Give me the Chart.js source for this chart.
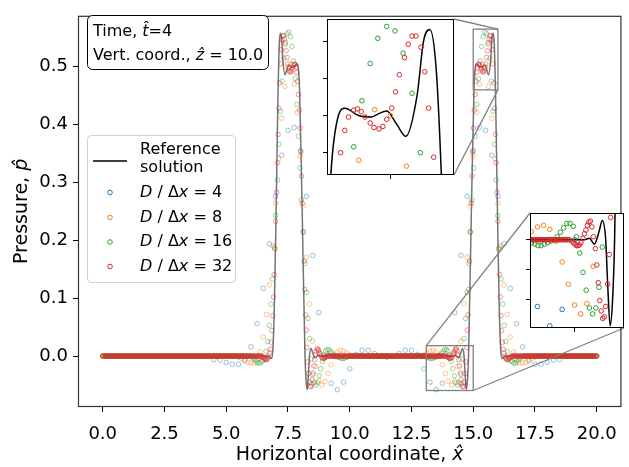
<!DOCTYPE html>
<html>
<head>
<meta charset="utf-8">
<script src="https://cdn.jsdelivr.net/npm/chart.js@4.4.0/dist/chart.umd.min.js"></script>
<style>
html, body { margin: 0; padding: 0; background: #fff; }
#wrap { position: relative; width: 629px; height: 467px; overflow: hidden; }
canvas { position: absolute; }
</style>
</head>
<body>
<div id="wrap">
  <canvas id="main" width="629" height="467" style="left:0;top:0"></canvas>
  <canvas id="ins1" width="138" height="167" style="left:321px;top:14px"></canvas>
  <canvas id="ins2" width="105" height="126" style="left:524px;top:208px"></canvas>
</div>
<script>
// ---- data ----
var xTicks = [0, 2.5, 5, 7.5, 10, 12.5, 15, 17.5, 20];
var yTicks = [0, 0.1, 0.2, 0.3, 0.4, 0.5];
var inset1XTicks = [15.5];
var inset1YTicks = [0.475, 0.5, 0.525, 0.55];
var inset2XTicks = [14];
var inset2YTicks = [-0.04, -0.02, 0];

var resolutions = ['4', '8', '16', '32'];
var spacing = [0.25, 0.125, 0.0625, 0.03125];
var colors = ['31,119,180', '255,127,14', '44,160,44', '214,39,40'];

var refLine = [[0,0],[6.0,0],[6.7,0],[6.78,-0.003],[6.85,-0.004],[6.9,0.02],[6.95,0.09],[7.0,0.2],[7.05,0.33],
  [7.1,0.461],[7.14,0.531],[7.19,0.558],[7.24,0.55],[7.29,0.514],[7.38,0.486],[7.45,0.494],[7.53,0.503],
  [7.6,0.501],[7.65,0.499],[7.75,0.5],[7.86,0.505],[7.91,0.5],[7.97,0.46],[8.08,0.24],[8.19,0.0],
  [8.23,-0.04],[8.28,-0.058],[8.33,-0.03],[8.37,0.0],[8.44,0.013],[8.5,0.006],[8.6,-0.003],[8.7,0.001],
  [8.8,0],[14.2,0],[14.3,0.001],[14.4,-0.003],[14.5,0.006],[14.56,0.013],[14.63,0.0],[14.67,-0.03],
  [14.72,-0.058],[14.77,-0.04],[14.81,0.0],[14.92,0.24],[15.03,0.46],[15.09,0.5],[15.14,0.505],[15.25,0.5],
  [15.35,0.499],[15.4,0.501],[15.47,0.503],[15.55,0.494],[15.62,0.486],[15.71,0.514],[15.76,0.55],
  [15.81,0.558],[15.86,0.531],[15.9,0.461],[15.95,0.33],[16.0,0.2],[16.05,0.09],[16.1,0.02],[16.15,-0.004],
  [16.22,-0.003],[16.3,0],[20,0]];

var blue = [[4.5,-0.006],[4.75,-0.007],[5,-0.011],[5.25,-0.014],[5.5,-0.014],[5.75,-0.008],[6,0.016],
  [6.25,0.056],[6.5,0.117],[6.75,0.194],[7,0.276],[7.25,0.347],[7.5,0.39],[7.75,0.395],[8,0.355],
  [8.25,0.276],[8.5,0.174],[8.75,0.075],[9,0],[9.25,-0.047],[9.5,-0.058],[9.75,-0.045],[10,-0.022],
  [10.25,0.003],[10.5,0.01],[10.75,0.01],[11,0.0045],[11.25,0],[11.5,-0.002],[11.75,0],[12,0.0045],
  [12.25,0.01],[12.5,0.01],[12.75,0.003],[13,-0.022],[13.25,-0.045],[13.5,-0.058],[13.75,-0.047],[14,0],
  [14.25,0.075],[14.5,0.174],[14.75,0.276],[15,0.355],[15.25,0.395],[15.5,0.39],[15.75,0.347],[16,0.276],
  [16.25,0.194],[16.5,0.117],[16.75,0.056],[17,0.016],[17.25,-0.008],[17.5,-0.014],[17.75,-0.014],
  [18,-0.011],[18.25,-0.007],[18.5,-0.006]];
var blueFlat = [[0, 4.25], [18.75, 20]];

var orange = [[5.5,-0.002],[5.625,-0.004],[5.75,-0.006],[5.875,-0.011],[6,-0.012],[6.125,-0.012],
  [6.25,-0.006],[6.375,0.007],[6.5,0.033],[6.625,0.072],[6.75,0.123],[6.875,0.191],[7,0.264],[7.125,0.341],
  [7.25,0.411],[7.375,0.466],[7.5,0.5],[7.625,0.504],[7.75,0.47],[7.875,0.421],[8,0.346],[8.125,0.259],
  [8.25,0.171],[8.375,0.09],[8.5,0.026],[8.625,-0.018],[8.75,-0.043],[8.875,-0.05],[9,-0.044],
  [9.125,-0.03],[9.25,-0.015],[9.375,-0.001],[9.5,0.007],[9.625,0.0097],[9.75,0.0086],[9.875,0.0054],
  [10,0.002],
  [13,0.002],[13.125,0.0054],[13.25,0.0086],[13.375,0.0097],[13.5,0.007],[13.625,-0.001],[13.75,-0.015],
  [13.875,-0.03],[14,-0.044],[14.125,-0.05],[14.25,-0.043],[14.375,-0.018],[14.5,0.026],[14.625,0.09],
  [14.75,0.171],[14.875,0.259],[15,0.346],[15.125,0.421],[15.25,0.47],[15.375,0.504],[15.5,0.5],
  [15.625,0.466],[15.75,0.411],[15.875,0.341],[16,0.264],[16.125,0.191],[16.25,0.123],[16.375,0.072],
  [16.5,0.033],[16.625,0.007],[16.75,-0.006],[16.875,-0.012],[17,-0.012],[17.125,-0.011],[17.25,-0.006],
  [17.375,-0.004],[17.5,-0.002]];
var orangeFlat = [[0, 5.375], [10.125, 12.875], [17.625, 20]];

var green = [[6.03,-0.001],[6.095,-0.003],[6.16,-0.006],[6.225,-0.01],[6.29,-0.012],[6.355,-0.012],
  [6.42,-0.01],[6.485,-0.008],[6.55,-0.003],[6.615,0.008],[6.68,0.025],[6.745,0.053],[6.81,0.09],
  [6.875,0.133],[6.94,0.188],[7.005,0.243],[7.07,0.304],[7.135,0.366],[7.2,0.423],[7.265,0.475],
  [7.33,0.515],[7.4,0.542],[7.465,0.557],[7.53,0.56],[7.6,0.552],[7.66,0.535],[7.725,0.51],[7.79,0.479],
  [7.855,0.435],[7.92,0.38],[7.985,0.325],[8.05,0.27],[8.115,0.215],[8.18,0.16],[8.245,0.11],[8.31,0.065],
  [8.375,0.03],[8.44,-0.005],[8.505,-0.032],[8.57,-0.046],[8.635,-0.05],[8.7,-0.046],[8.765,-0.034],
  [8.83,-0.022],[8.895,-0.009],[8.96,0.002],[9.025,0.009],[9.09,0.011],[9.155,0.011],[9.22,0.008],
  [9.285,0.005],[9.35,0.002],[9.415,0],[9.48,-0.001],[9.545,-0.002],[9.61,-0.003],[9.675,-0.004],
  [9.74,-0.004],[9.805,-0.003],[9.87,-0.002],[9.935,-0.001],
  [13.065,-0.001],[13.13,-0.002],[13.195,-0.003],[13.26,-0.004],[13.325,-0.004],[13.39,-0.003],
  [13.455,-0.002],[13.52,-0.001],[13.585,0],[13.65,0.002],[13.715,0.005],[13.78,0.008],[13.845,0.011],
  [13.91,0.011],[13.975,0.009],[14.04,0.002],[14.105,-0.009],[14.17,-0.022],[14.235,-0.034],[14.3,-0.046],
  [14.365,-0.05],[14.43,-0.046],[14.495,-0.032],[14.56,-0.005],[14.625,0.03],[14.69,0.065],[14.755,0.11],
  [14.82,0.16],[14.885,0.215],[14.95,0.27],[15.015,0.325],[15.08,0.38],[15.145,0.435],[15.21,0.479],
  [15.275,0.51],[15.34,0.535],[15.4,0.552],[15.47,0.56],[15.535,0.557],[15.6,0.542],[15.67,0.515],
  [15.735,0.475],[15.8,0.423],[15.865,0.366],[15.93,0.304],[15.995,0.243],[16.06,0.188],[16.125,0.133],
  [16.19,0.09],[16.255,0.053],[16.32,0.025],[16.385,0.008],[16.45,-0.003],[16.515,-0.008],[16.58,-0.01],
  [16.645,-0.012],[16.71,-0.012],[16.775,-0.01],[16.84,-0.006],[16.905,-0.003],[16.97,-0.001]];
var greenFlat = [[0, 5.94], [10, 13], [17.0625, 20]];

var red = [[6.47,-0.001],[6.5,-0.002],[6.54,-0.004],[6.57,-0.005],[6.6,-0.006],[6.63,-0.006],[6.66,-0.005],
  [6.69,-0.003],[6.72,0],[6.75,0.005],[6.79,0.012],[6.82,0.024],[6.85,0.044],[6.88,0.07],[6.91,0.102],
  [6.94,0.141],[6.97,0.185],[7.0,0.233],[7.04,0.283],[7.07,0.334],[7.1,0.383],[7.13,0.428],[7.16,0.472],
  [7.2,0.505],[7.23,0.5295],[7.26,0.546],[7.3,0.5535],[7.33,0.5535],[7.36,0.548],[7.39,0.539],[7.43,0.5275],
  [7.46,0.516],[7.49,0.505],[7.53,0.4975],[7.56,0.4927],[7.59,0.491],[7.63,0.492],[7.66,0.495],[7.7,0.499],
  [7.73,0.5026],[7.76,0.5045],[7.79,0.5037],[7.83,0.499],[7.86,0.49],[7.893,0.475],[7.925,0.452],
  [7.96,0.425],[7.99,0.394],[8.02,0.353],[8.05,0.311],[8.08,0.264],[8.12,0.214],[8.15,0.164],[8.18,0.115],
  [8.21,0.071],[8.24,0.045],[8.27,0.015],[8.3,-0.01],[8.33,-0.03],[8.37,-0.045],[8.4,-0.052],[8.43,-0.053],
  [8.46,-0.048],[8.49,-0.041],[8.52,-0.029],[8.55,-0.017],[8.58,-0.006],[8.62,0.002],[8.65,0.0086],
  [8.68,0.0125],[8.71,0.0119],[8.74,0.0097],[8.77,0.0065],[8.8,0.004],[8.83,0.001],[8.87,-0.002],
  [8.9,-0.0035],[8.93,-0.004],[8.96,-0.004],[8.99,-0.003],[9.02,-0.002],[9.05,-0.001],
  [13.95,-0.001],[13.98,-0.002],[14.01,-0.003],[14.04,-0.004],[14.07,-0.004],[14.1,-0.0035],[14.13,-0.002],
  [14.17,0.001],[14.2,0.004],[14.23,0.0065],[14.26,0.0097],[14.29,0.0119],[14.32,0.0125],[14.35,0.0086],
  [14.38,0.002],[14.42,-0.006],[14.45,-0.017],[14.48,-0.029],[14.51,-0.041],[14.54,-0.048],[14.57,-0.053],
  [14.6,-0.052],[14.63,-0.045],[14.67,-0.03],[14.7,-0.01],[14.73,0.015],[14.76,0.045],[14.79,0.071],
  [14.82,0.115],[14.85,0.164],[14.88,0.214],[14.92,0.264],[14.95,0.311],[14.98,0.353],[15.01,0.394],
  [15.04,0.425],[15.075,0.452],[15.107,0.475],[15.14,0.49],[15.17,0.499],[15.21,0.5037],[15.24,0.5045],
  [15.27,0.5026],[15.3,0.499],[15.34,0.495],[15.37,0.492],[15.41,0.491],[15.44,0.4927],[15.47,0.4975],
  [15.51,0.505],[15.54,0.516],[15.57,0.5275],[15.61,0.539],[15.64,0.548],[15.67,0.5535],[15.7,0.5535],
  [15.74,0.546],[15.77,0.5295],[15.8,0.505],[15.84,0.472],[15.87,0.428],[15.9,0.383],[15.93,0.334],
  [15.96,0.283],[16.0,0.233],[16.03,0.185],[16.06,0.141],[16.09,0.102],[16.12,0.07],[16.15,0.044],
  [16.18,0.024],[16.21,0.012],[16.25,0.005],[16.28,0],[16.31,-0.003],[16.34,-0.005],[16.37,-0.006],
  [16.4,-0.006],[16.43,-0.005],[16.46,-0.004],[16.5,-0.002],[16.53,-0.001]];
var redFlat = [[0, 6.44], [9.08, 13.92], [16.56, 20]];

var allPoints = [blue, orange, green, red];
var allFlat = [blueFlat, orangeFlat, greenFlat, redFlat];

// ---- helpers ----
Chart.defaults.font.family = '"DejaVu Sans", sans-serif';
var FONT = '"DejaVu Sans"';

function toXY(list) {
  return list.map(function (p) { return { x: p[0], y: p[1] }; });
}

// points at y = 0 along the flat parts, one per grid cell of that resolution
function seriesData(k) {
  var out = toXY(allPoints[k]);
  allFlat[k].forEach(function (r) {
    for (var x = r[0]; x <= r[1] + 1e-9; x += spacing[k]) out.push({ x: +x.toFixed(5), y: 0 });
  });
  return out.sort(function (a, b) { return a.x - b.x; });
}

function buildDatasets(alpha, lineColor, markerWidth) {
  var ds = [{
    label: 'Reference solution', data: toXY(refLine), showLine: true,
    borderColor: lineColor, borderWidth: 1.5, pointRadius: 0,
    cubicInterpolationMode: 'monotone', order: 10
  }];
  for (var k = 0; k < resolutions.length; k++) {
    ds.push({
      label: 'D / Δx = ' + resolutions[k], data: seriesData(k), showLine: false,
      pointRadius: 2.3, pointBorderWidth: markerWidth,
      borderColor: 'rgba(' + colors[k] + ',' + alpha + ')',
      backgroundColor: 'rgba(0,0,0,0)', order: 5 - k
    });
  }
  return ds;
}

function richText(ctx, parts, x, y, size, align) {
  var w = 0;
  parts.forEach(function (p) {
    ctx.font = (p[1] ? 'italic ' : '') + size + 'px ' + FONT;
    w += ctx.measureText(p[0]).width;
  });
  if (align === 'center') x -= w / 2;
  ctx.textAlign = 'left';
  ctx.textBaseline = 'middle';
  parts.forEach(function (p) {
    ctx.font = (p[1] ? 'italic ' : '') + size + 'px ' + FONT;
    ctx.fillText(p[0], x, y);
    x += ctx.measureText(p[0]).width;
  });
}

function roundBox(ctx, x, y, w, h, r) {
  ctx.beginPath();
  ctx.moveTo(x + r, y);
  ctx.arcTo(x + w, y, x + w, y + h, r);
  ctx.arcTo(x + w, y + h, x, y + h, r);
  ctx.arcTo(x, y + h, x, y, r);
  ctx.arcTo(x, y, x + w, y, r);
  ctx.closePath();
}

var framePlugin = {
  id: 'frame',
  beforeDraw: function (chart) {
    if (!chart.options.plugins.frame.fill) return;
    var a = chart.chartArea, ctx = chart.ctx;
    ctx.save();
    ctx.fillStyle = '#fff';
    ctx.fillRect(a.left, a.top, a.right - a.left, a.bottom - a.top);
    ctx.restore();
  },
  afterDraw: function (chart) {
    var a = chart.chartArea, ctx = chart.ctx, o = chart.options.plugins.frame;
    ctx.save();
    ctx.strokeStyle = o.color;
    ctx.lineWidth = o.width;
    ctx.strokeRect(a.left + 0.5, a.top + 0.5, a.right - a.left - 1, a.bottom - a.top - 1);
    ctx.restore();
  }
};

function insetChart(id, xr, yr, xt, yt) {
  return new Chart(document.getElementById(id), {
    type: 'scatter',
    data: { datasets: buildDatasets(1, '#000', 1).map(function (d) { d.clip = 0; return d; }) },
    options: {
      responsive: false, animation: false, devicePixelRatio: 1, events: [],
      layout: { padding: { left: 0, top: 1, right: 1, bottom: 0 } },
      elements: { line: { capBezierPoints: false } },
      plugins: { legend: { display: false }, tooltip: { enabled: false },
        frame: { color: '#000', width: 1, fill: true } },
      scales: {
        x: { type: 'linear', min: xr[0], max: xr[1],
          afterFit: function (s) { s.height = 6; },
          afterBuildTicks: function (s) { s.ticks = xt.map(function (v) { return { value: v }; }); },
          ticks: { display: false },
          grid: { drawOnChartArea: false, tickLength: 4, tickColor: '#000', tickWidth: 1 },
          border: { display: false } },
        y: { type: 'linear', min: yr[0], max: yr[1],
          afterFit: function (s) { s.width = 6; },
          afterBuildTicks: function (s) { s.ticks = yt.map(function (v) { return { value: v }; }); },
          ticks: { display: false },
          grid: { drawOnChartArea: false, tickLength: 4, tickColor: '#000', tickWidth: 1 },
          border: { display: false } }
      }
    },
    plugins: [framePlugin]
  });
}

var inset1Range = { x: [15.0, 16.0], y: [0.46, 0.565] };
var inset2Range = { x: [13.1, 15.0], y: [-0.0595, 0.018] };
var ins1 = insetChart('ins1', inset1Range.x, inset1Range.y, inset1XTicks, inset1YTicks);
var ins2 = insetChart('ins2', inset2Range.x, inset2Range.y, inset2XTicks, inset2YTicks);

function insetCorners(chart) {
  var c = chart.canvas, a = chart.chartArea;
  var l = c.offsetLeft + a.left, t = c.offsetTop + a.top;
  var r = c.offsetLeft + a.right, b = c.offsetTop + a.bottom;
  return { tl: [l, t], tr: [r, t], bl: [l, b], br: [r, b] };
}

var overlayPlugin = {
  id: 'overlay',
  afterDatasetsDraw: function (chart) {
    var ctx = chart.ctx, xs = chart.scales.x, ys = chart.scales.y;
    function box(rng) {
      var l = xs.getPixelForValue(rng.x[0]), r = xs.getPixelForValue(rng.x[1]);
      var t = ys.getPixelForValue(rng.y[1]), b = ys.getPixelForValue(rng.y[0]);
      return { tl: [l, t], tr: [r, t], bl: [l, b], br: [r, b] };
    }
    var b1 = box(inset1Range), b2 = box(inset2Range);
    var c1 = insetCorners(ins1), c2 = insetCorners(ins2);
    ctx.save();
    ctx.strokeStyle = '#808080';
    ctx.lineWidth = 1.3;
    [b1, b2].forEach(function (b) {
      ctx.strokeRect(b.tl[0], b.tl[1], b.tr[0] - b.tl[0], b.bl[1] - b.tl[1]);
    });
    var links = [[b1.tr, c1.tr], [b1.br, c1.br], [b2.tl, c2.tl], [b2.br, c2.br]];
    links.forEach(function (p) {
      ctx.beginPath(); ctx.moveTo(p[0][0], p[0][1]); ctx.lineTo(p[1][0], p[1][1]); ctx.stroke();
    });
    ctx.restore();
  },
  afterDraw: function (chart) {
    var ctx = chart.ctx, a = chart.chartArea;
    ctx.save();
    ctx.fillStyle = '#000';
    // axis titles
    richText(ctx, [['Horizontal coordinate, ', false], ['x\u0302', true]], (a.left + a.right) / 2, 455, 19, 'center');
    ctx.save();
    ctx.translate(22, (a.top + a.bottom) / 2);
    ctx.rotate(-Math.PI / 2);
    richText(ctx, [['Pressure, ', false], ['p\u0302', true]], 0, 0, 19, 'center');
    ctx.restore();

    // annotation box
    roundBox(ctx, 87.5, 15.5, 181, 54, 5);
    ctx.fillStyle = '#fff'; ctx.fill();
    ctx.strokeStyle = '#000'; ctx.lineWidth = 1; ctx.stroke();
    ctx.fillStyle = '#000';
    richText(ctx, [['Time, ', false], ['t\u0302', true], ['=4', false]], 93, 32, 16);
    richText(ctx, [['Vert. coord., ', false], ['z\u0302', true], [' = 10.0', false]], 93, 56, 16);

    // legend
    roundBox(ctx, 87.5, 135.5, 148, 147, 4);
    ctx.fillStyle = 'rgba(255,255,255,0.8)'; ctx.fill();
    ctx.strokeStyle = '#d0d0d0'; ctx.lineWidth = 1; ctx.stroke();
    ctx.strokeStyle = '#000'; ctx.lineWidth = 1.5;
    ctx.beginPath(); ctx.moveTo(93, 161); ctx.lineTo(127, 161); ctx.stroke();
    ctx.fillStyle = '#000';
    richText(ctx, [['Reference', false]], 140, 150, 16);
    richText(ctx, [['solution', false]], 140, 168, 16);
    var rowY = [192.5, 217.5, 242, 266.5];
    for (var k = 0; k < resolutions.length; k++) {
      ctx.strokeStyle = 'rgb(' + colors[k] + ')';
      ctx.lineWidth = 1;
      ctx.beginPath(); ctx.arc(110, rowY[k], 2.3, 0, Math.PI * 2); ctx.stroke();
      ctx.fillStyle = '#000';
      richText(ctx, [['D', true], [' / \u0394', false], ['x', true], [' = ' + resolutions[k], false]], 140, rowY[k], 16);
    }
    ctx.restore();
  }
};

new Chart(document.getElementById('main'), {
  type: 'scatter',
  data: { datasets: buildDatasets(0.5, 'rgba(0,0,0,0.55)', 0.9) },
  options: {
    responsive: false, animation: false, devicePixelRatio: 1, events: [],
    layout: { padding: { left: 0, top: 10, right: 0, bottom: 0 } },
    elements: { line: { capBezierPoints: false } },
    plugins: { legend: { display: false }, tooltip: { enabled: false },
      frame: { color: '#333', width: 1.2, fill: false } },
    scales: {
      x: { type: 'linear', min: -1, max: 21,
        afterFit: function (s) { s.height = 60; },
        afterBuildTicks: function (s) { s.ticks = xTicks.map(function (v) { return { value: v }; }); },
        ticks: { color: '#000', font: { size: 18 }, padding: 12, maxRotation: 0, autoSkip: false,
          callback: function (v) { return v.toFixed(1); } },
        grid: { drawOnChartArea: false, tickLength: 5, tickColor: '#000', tickWidth: 1 },
        border: { display: false } },
      y: { type: 'linear', min: -0.088, max: 0.588,
        afterFit: function (s) { s.width = 78; },
        afterBuildTicks: function (s) { s.ticks = yTicks.map(function (v) { return { value: v }; }); },
        ticks: { color: '#000', font: { size: 18 }, padding: 5,
          callback: function (v) { return v.toFixed(1); } },
        grid: { drawOnChartArea: false, tickLength: 5, tickColor: '#000', tickWidth: 1 },
        border: { display: false } }
    }
  },
  plugins: [framePlugin, overlayPlugin]
});
</script>
</body>
</html>
